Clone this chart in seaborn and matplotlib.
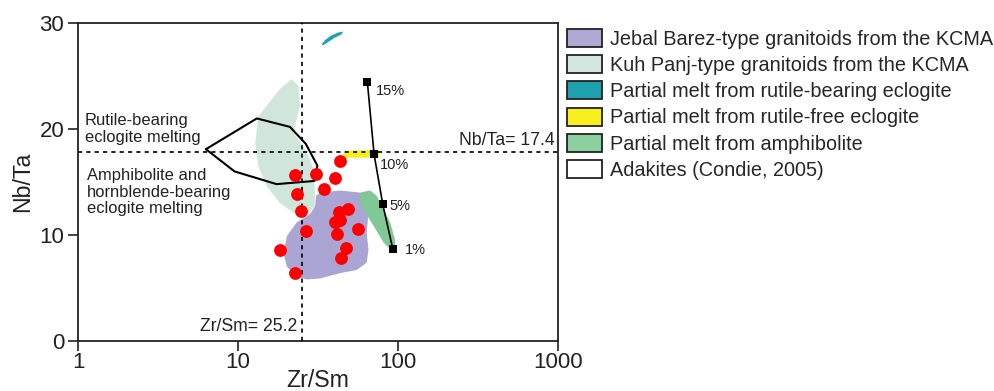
import numpy as np
import matplotlib
matplotlib.use("Agg")
import matplotlib.pyplot as plt
from matplotlib.patches import Patch
from matplotlib.ticker import FixedLocator, FixedFormatter, NullLocator
import seaborn as sns
import pandas as pd

# samples (red dots)
sample_zr_sm = [43.6, 22.7, 30.9, 40.4, 34.2, 23.2, 24.8, 48.3, 42.5, 43.6, 40.4, 55.8, 26.5, 41.4, 18.2, 47.1, 44.1, 22.6]
sample_nb_ta = [17.0, 15.7, 15.8, 15.4, 14.3, 13.9, 12.3, 12.5, 12.2, 11.4, 11.2, 10.6, 10.4, 10.1, 8.6, 8.8, 7.8, 6.4]

# field outlines
jebal_x = [32.6, 43.4, 57.9, 63.7, 65.3, 63.7, 65.3, 63.7, 55.2, 43.4, 32.6, 26.9, 23.3, 20.2, 19.2, 20.2, 23.3, 28.2, 30.3, 30.7]
jebal_y = [14.0, 14.2, 14.0, 13.4, 12.1, 10.2, 8.6, 7.4, 6.7, 6.4, 5.9, 5.8, 6.1, 7.0, 8.3, 9.9, 11.2, 12.0, 12.7, 13.7]

kuhpanj_x = [21.6, 23.8, 24.4, 22.7, 22.7, 25.0, 27.5, 29.6, 30.2, 30.2, 26.9, 23.3, 18.3, 15.1, 13.4, 12.8, 13.4, 15.1, 18.3]
kuhpanj_y = [24.7, 24.1, 22.2, 20.3, 19.4, 18.6, 17.5, 16.2, 14.0, 12.7, 11.9, 11.9, 13.0, 14.6, 16.5, 18.7, 21.2, 22.2, 23.8]

rutile_x = [33.3, 35.0, 38.0, 42.0, 45.5, 44.0, 40.0, 36.5, 34.0]
rutile_y = [28.0, 28.4, 28.8, 29.1, 29.2, 28.9, 28.6, 28.2, 27.9]

rutile_free_x = [45.3, 47.0, 60.0, 76.1, 76.1, 60.0, 48.0, 46.0]
rutile_free_y = [17.6, 17.95, 18.0, 18.0, 17.3, 17.3, 17.3, 17.0]

amph_x = [57.9, 66.8, 73.6, 81.0, 89.1, 95.6, 95.6, 91.2, 81.0, 70.1, 60.7, 57.3]
amph_y = [14.0, 14.2, 13.7, 12.4, 11.2, 9.6, 8.6, 8.5, 9.3, 10.9, 12.4, 13.4]

adakite_x = [6.3, 13.1, 21.1, 26.5, 31.3, 30.0, 17.4, 9.5, 6.3]
adakite_y = [18.1, 21.0, 20.2, 18.6, 16.55, 15.1, 14.8, 16.0, 18.1]

# melting curve
melt_zr_sm = [64.3, 70.8, 80.2, 92.6]
melt_nb_ta = [24.4, 17.6, 12.9, 8.7]
melt_labels = ["15%", "10%", "5%", "1%"]
melt_label_x = [72.5, 77.2, 88.3, 110.6]
melt_label_y = [23.6, 16.65, 12.73, 8.63]

zr_sm_ref = 25.2
nb_ta_ref = 17.8

legend_labels = ["Jebal Barez-type granitoids from the KCMA",
                 "Kuh Panj-type granitoids from the KCMA",
                 "Partial melt from rutile-bearing eclogite",
                 "Partial melt from rutile-free eclogite",
                 "Partial melt from amphibolite",
                 "Adakites (Condie, 2005)"]
legend_colors = ["#B0A9D6", "#D2E8DE", "#1FA0AF", "#F8F01E", "#8CD0A0", "#FFFFFF"]

sns.set_style("ticks")
plt.rcParams["font.family"] = ["Liberation Sans", "DejaVu Sans"]

fig = plt.figure(figsize=(9.94, 3.91), dpi=100)
ax = fig.add_axes([0.0785, 0.128, 0.483, 0.813])
ax.set_xscale("log")

ax.fill(kuhpanj_x, kuhpanj_y, color="#D0E6DA", lw=0, zorder=1)
ax.fill(jebal_x, jebal_y, color="#ABA5D3", lw=0, zorder=2)
ax.fill(amph_x, amph_y, color="#80C896", lw=0, zorder=2)
ax.fill(rutile_x, rutile_y, color="#1FA0AF", lw=0, zorder=2)
ax.fill(rutile_free_x, rutile_free_y, color="#F8F01E", lw=0, zorder=2)
ax.plot(adakite_x, adakite_y, color="black", lw=1.5, zorder=3)

ax.axvline(zr_sm_ref, color="black", lw=1.2, ls=(0, (2.5, 2.5)), zorder=3)
ax.axhline(nb_ta_ref, color="black", lw=1.2, ls=(0, (2.5, 2.5)), zorder=3)

melt = pd.DataFrame({"zr": melt_zr_sm, "nb": melt_nb_ta})
sns.lineplot(data=melt, x="zr", y="nb", sort=False, color="black", lw=1.2,
             marker="s", markersize=6, markeredgewidth=0, ax=ax, zorder=4)
for lx, ly, t in zip(melt_label_x, melt_label_y, melt_labels):
    ax.text(lx, ly, t, fontsize=10.5, ha="left", va="center", color="#222222")

pts = pd.DataFrame({"zr": sample_zr_sm, "nb": sample_nb_ta})
sns.scatterplot(data=pts, x="zr", y="nb", color="#FF0000", s=85, linewidth=0, ax=ax, zorder=5)

ax.text(1.106, 20.0, "Rutile-bearing\neclogite melting", fontsize=11.9, ha="left", va="center",
        linespacing=1.15, color="#222222")
ax.text(1.13, 14.05, "Amphibolite and\nhornblende-bearing\neclogite melting", fontsize=11.9,
        ha="left", va="center", linespacing=1.15, color="#222222")
ax.text(950, 18.9, "Nb/Ta= 17.4", fontsize=12.7, ha="right", va="center", color="#222222")
ax.text(23.3, 1.4, "Zr/Sm= 25.2", fontsize=12.7, ha="right", va="center", color="#222222")

ax.set_xlim(1, 1000)
ax.set_ylim(0, 30)
ax.xaxis.set_major_locator(FixedLocator([1, 10, 100, 1000]))
ax.xaxis.set_major_formatter(FixedFormatter(["1", "10", "100", "1000"]))
ax.xaxis.set_minor_locator(NullLocator())
ax.set_yticks([0, 10, 20, 30])
ax.tick_params(direction="out", length=7, width=1.2, labelsize=16, pad=3, colors="#222222")
ax.tick_params(axis="x", pad=1)
for sp in ax.spines.values():
    sp.set_linewidth(1.3)
    sp.set_color("#222222")
ax.set_xlabel("Zr/Sm", fontsize=16.7, labelpad=-3, color="#222222")
ax.set_ylabel("Nb/Ta", fontsize=16.7, labelpad=4, color="#222222")

handles = [Patch(facecolor=c, edgecolor="#222222", lw=1.3) for c in legend_colors]
fig.legend(handles, legend_labels, loc="upper left", bbox_to_anchor=(567 / 994, 1 - 29 / 391),
           frameon=False, fontsize=14.3, handlelength=1.76, handleheight=1.0,
           handletextpad=0.4, labelspacing=0.33, borderpad=0, borderaxespad=0)

fig.savefig("out.png", dpi=100)
